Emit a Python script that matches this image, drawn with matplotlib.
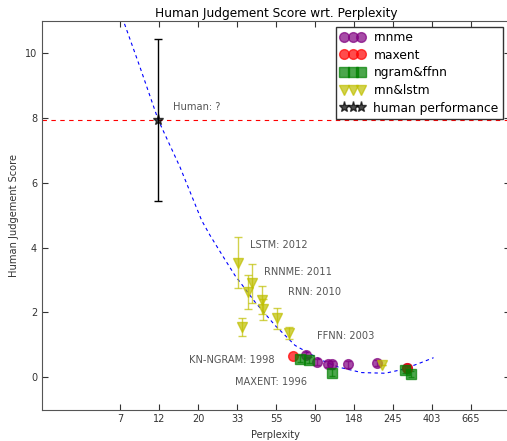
import numpy as np
import matplotlib
matplotlib.use('Agg')
from matplotlib import pyplot as plt

# human performance
human_ppl = [12.0]
human_score = [7.93]
human_err = [2.5]

# rnn & lstm models (perplexity, score, error)
rnn_ppl = [33.7, 40.3, 38.0, 45.8, 46.4, 55.3, 64.3, 35.3, 213.0]
rnn_score = [3.53, 2.90, 2.63, 2.39, 2.09, 1.82, 1.36, 1.55, 0.36]
rnn_err = [0.79, 0.60, 0.53, 0.44, 0.33, 0.33, 0.18, 0.27, 0.0]

# rnnme
rnnme_ppl = [79.9, 92.7, 106.8, 111.5, 138.0, 198.6, 292.0]
rnnme_score = [0.69, 0.46, 0.41, 0.39, 0.39, 0.43, 0.27]
rnnme_err = [0.1, 0.1, 0.1, 0.1, 0.1, 0.1, 0.1]

# maxent
maxent_ppl = [68.2, 292.0]
maxent_score = [0.64, 0.29]

# ngram & ffnn
ngram_ppl = [73.8, 83.7, 112.6, 285.0, 308.0]
ngram_score = [0.57, 0.53, 0.14, 0.23, 0.10]
ngram_err = [0.1, 0.1, 0.1, 0.1, 0.1]

# fitted trend
fit_ppl = [7.39, 9.54, 12.07, 15.94, 21.05, 23.43, 28.39, 32.27, 36.71, 41.72,
           47.42, 53.89, 63.96, 69.70, 98.1, 121.5, 164.0, 221.4, 273.1, 336.9, 411.6]
fit_score = [11.3, 9.58, 7.94, 6.49, 4.84, 4.38, 3.63, 3.14, 2.73, 2.32,
             1.96, 1.60, 1.19, 0.98, 0.52, 0.31, 0.14, 0.12, 0.23, 0.41, 0.60]

# annotations
notes = ['Human: ?', 'LSTM: 2012', 'RNNME: 2011', 'RNN: 2010', 'FFNN: 2003',
         'KN-NGRAM: 1998', 'MAXENT: 1996']
notes_ppl = [14.5, 39.2, 47.0, 63.4, 92.8, 18.0, 32.3]
notes_score = [8.35, 4.07, 3.24, 2.63, 1.27, 0.54, -0.15]

tick_pos = np.arange(2.0, 6.6, 0.5)
tick_lab = [str(int(round(np.exp(t)))) for t in tick_pos]

fig = plt.figure(figsize=(5.07, 4.41), dpi=100)
ax = fig.add_axes([42 / 507, 31.5 / 441, 468 / 507, 388.5 / 441])

ax.plot(np.log(fit_ppl), fit_score, '--', color='blue', lw=0.8, dashes=(3, 3))
ax.axhline(human_score[0], color='red', ls='--', lw=0.8, dashes=(4, 4))

a = 0.7
ax.errorbar(np.log(rnn_ppl), rnn_score, yerr=rnn_err, fmt='none', ecolor='y',
            alpha=a, capsize=3, lw=1)
ax.errorbar(np.log(rnnme_ppl), rnnme_score, yerr=rnnme_err, fmt='none',
            ecolor='purple', alpha=a, capsize=2, lw=1)
ax.errorbar(np.log(ngram_ppl), ngram_score, yerr=ngram_err, fmt='none',
            ecolor='g', alpha=a, capsize=2, lw=1)
ax.errorbar(np.log(human_ppl), human_score, yerr=human_err, fmt='none',
            ecolor='k', capsize=3, lw=1)

ax.plot(np.log(rnnme_ppl), rnnme_score, 'o', color='purple', mec='purple',
        ms=7, alpha=a, label='rnnme')
ax.plot(np.log(maxent_ppl), maxent_score, 'o', color='r', mec='r',
        ms=7, alpha=a, label='maxent')
ax.plot(np.log(ngram_ppl), ngram_score, 's', color='g', mec='g',
        ms=7, alpha=a, label='ngram&ffnn')
ax.plot(np.log(rnn_ppl), rnn_score, 'v', color='y', mec='y',
        ms=7, alpha=a, label='rnn&lstm')
ax.plot(np.log(human_ppl), human_score, '*', color='k', mec='k',
        ms=8, alpha=a, label='human performance')

for s, p, v in zip(notes, notes_ppl, notes_score):
    ax.text(np.log(p), v, s, fontsize=7.1, color='#555555', va='center')

ax.set_xlim(1.0, 7.0)
ax.set_ylim(-1, 11)
ax.set_xticks(tick_pos)
ax.set_xticklabels(tick_lab)
ax.set_yticks([0, 2, 4, 6, 8, 10])
ax.tick_params(direction='in', top=True, right=True, labelsize=7,
               colors='#333333', length=4)
for sp in ax.spines.values():
    sp.set_color('#555555')
ax.set_xlabel('Perplexity', fontsize=7.1, color='#333333')
ax.set_ylabel('Human Judgement Score', fontsize=7.1, color='#333333')
ax.set_title('Human Judgement Score wrt. Perplexity', fontsize=8.7, pad=3)

ax.legend(loc='upper right', bbox_to_anchor=(0.985, 0.985), borderaxespad=0,
          numpoints=3, fontsize=8.8, fancybox=False, edgecolor='#333333',
          framealpha=1, handletextpad=0.7, labelspacing=0.38, borderpad=0.35)

fig.savefig('out.png', dpi=100)
